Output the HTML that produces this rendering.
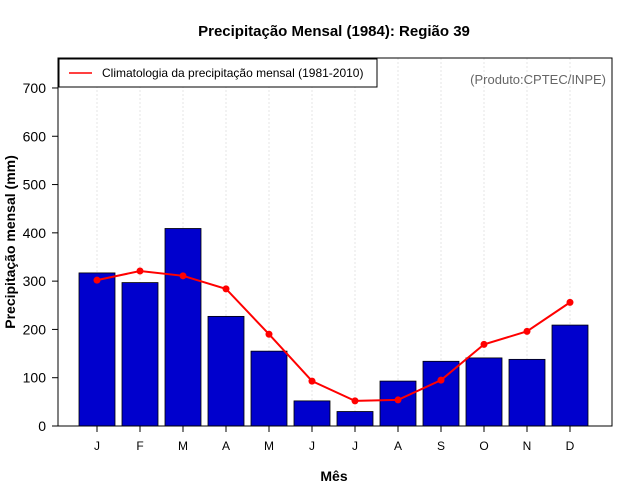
<!DOCTYPE html>
<html><head><meta charset="utf-8"><style>body{margin:0;background:#fff}svg{display:block;font-family:"Liberation Sans",sans-serif}</style></head>
<body>
<svg id="chart" width="640" height="500">
<text x="334" y="36" text-anchor="middle" font-size="15" font-weight="bold">Precipitação Mensal (1984): Região 39</text>
<g id="grid"></g><g id="bars"></g><g id="line"></g><g id="axes"></g>
<rect x="58" y="58" width="554" height="368" fill="none" stroke="#000" stroke-width="1"/>
<g>
<rect x="59" y="59" width="318" height="28" fill="#fff" stroke="#000"/>
<line x1="69" y1="73" x2="92" y2="73" stroke="#f00" stroke-width="1.5"/>
<text x="102" y="77" font-size="12">Climatologia da precipitação mensal (1981-2010)</text>
</g>
<text x="606" y="84" text-anchor="end" font-size="13" fill="#666">(Produto:CPTEC/INPE)</text>
<text x="334" y="481" text-anchor="middle" font-size="14" font-weight="bold">Mês</text>
<text transform="translate(15,242) rotate(-90)" text-anchor="middle" font-size="14" font-weight="bold">Precipitação mensal (mm)</text>
</svg>
<script>
const months=["J","F","M","A","M","J","J","A","S","O","N","D"];
const observed=[317,297,409,227,155,52,30,93,134,141,138,209];
const climatology=[302,321,311,284,190,93,52,54,95,169,196,256];
const yTicks=[0,100,200,300,400,500,600,700];
const NS="http://www.w3.org/2000/svg";
function y(v){return 426-v*0.4829;}
function x(i){return 97+i*43;}
function mk(t,a,p){const e=document.createElementNS(NS,t);for(const k in a)e.setAttribute(k,a[k]);p.appendChild(e);return e;}
const grid=document.getElementById('grid'),bars=document.getElementById('bars'),line=document.getElementById('line'),axes=document.getElementById('axes');
months.forEach((m,i)=>{
 const g=mk('line',{x1:x(i),x2:x(i),y1:58,y2:426,stroke:'#e6e6e6','stroke-dasharray':'2,2'},grid);
 
 
 const b=mk('rect',{x:x(i)-18,y:y(observed[i]),width:36,height:426-y(observed[i]),fill:'#0000cd',stroke:'#000','stroke-width':0.8},bars);
 
 
 const t=mk('line',{x1:x(i),x2:x(i),y1:426,y2:432,stroke:'#000'},axes);
 
 
 const l=mk('text',{x:x(i),y:450,'text-anchor':'middle','font-size':12},axes);
 l.textContent=m;
 
 
});
const pl=mk('polyline',{points:climatology.map((v,i)=>x(i)+','+y(v)).join(' '),fill:'none',stroke:'#f00','stroke-width':2},line);


climatology.forEach((v,i)=>{
 const c=mk('circle',{cx:x(i),cy:y(v),r:3.5,fill:'#f00'},line);
 
 
});
yTicks.forEach(v=>{
 const t=mk('line',{x1:52,x2:58,y1:y(v),y2:y(v),stroke:'#000'},axes);
 
 
 const l=mk('text',{x:46,y:y(v)+5,'text-anchor':'end','font-size':14},axes);
 l.textContent=v;
 
 
});
</script>
</body></html>
